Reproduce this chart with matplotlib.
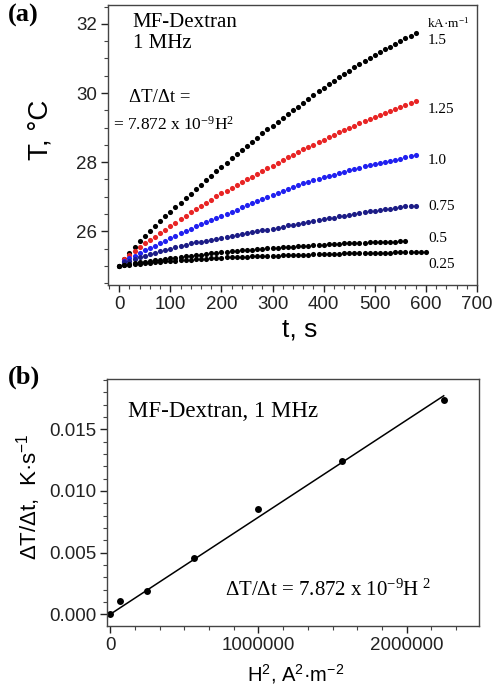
import numpy as np
import matplotlib
matplotlib.use("Agg")
from matplotlib import pyplot as plt
from matplotlib.ticker import AutoMinorLocator

plt.rcParams["mathtext.default"] = "regular"

# heating curves, read every 10 s
t_15 = np.arange(0, 590, 10)
T_15 = [25.00, 25.20, 25.38, 25.55, 25.71, 25.86, 26.01, 26.15, 26.29, 26.43,
        26.57, 26.70, 26.83, 26.96, 27.09, 27.22, 27.35, 27.48, 27.61, 27.74,
        27.87, 27.99, 28.11, 28.23, 28.35, 28.47, 28.59, 28.71, 28.83, 28.95,
        29.06, 29.17, 29.28, 29.39, 29.50, 29.61, 29.72, 29.83, 29.94, 30.05,
        30.15, 30.25, 30.35, 30.45, 30.55, 30.65, 30.74, 30.83, 30.92, 31.01,
        31.10, 31.18, 31.26, 31.34, 31.42, 31.50, 31.58, 31.66, 31.74]

t_125 = np.arange(10, 590, 10)
T_125 = [25.20, 25.32, 25.43, 25.54, 25.65, 25.75, 25.85, 25.95, 26.05, 26.15,
         26.25, 26.35, 26.45, 26.55, 26.65, 26.74, 26.83, 26.92, 27.01, 27.10,
         27.18, 27.26, 27.34, 27.42, 27.50, 27.58, 27.66, 27.74, 27.82, 27.90,
         27.98, 28.06, 28.14, 28.22, 28.30, 28.37, 28.44, 28.51, 28.58, 28.65,
         28.72, 28.79, 28.86, 28.93, 29.00, 29.06, 29.12, 29.18, 29.24, 29.30,
         29.36, 29.42, 29.48, 29.54, 29.60, 29.66, 29.72, 29.77]

t_10 = np.arange(10, 590, 10)
T_10 = [25.15, 25.22, 25.30, 25.38, 25.45, 25.52, 25.59, 25.66, 25.73, 25.80,
        25.87, 25.94, 26.01, 26.08, 26.15, 26.21, 26.27, 26.33, 26.39, 26.45,
        26.51, 26.57, 26.63, 26.69, 26.75, 26.81, 26.87, 26.93, 26.99, 27.05,
        27.11, 27.17, 27.23, 27.29, 27.35, 27.39, 27.44, 27.49, 27.52, 27.56,
        27.60, 27.64, 27.68, 27.72, 27.76, 27.80, 27.84, 27.88, 27.92, 27.95,
        27.98, 28.01, 28.04, 28.07, 28.10, 28.14, 28.17, 28.20]

t_075 = np.arange(10, 590, 10)
T_075 = [25.10, 25.14, 25.19, 25.25, 25.30, 25.34, 25.38, 25.42, 25.46, 25.50,
         25.54, 25.58, 25.61, 25.65, 25.68, 25.70, 25.73, 25.75, 25.78, 25.80,
         25.83, 25.86, 25.89, 25.92, 25.95, 25.98, 26.00, 26.03, 26.05, 26.08,
         26.11, 26.14, 26.17, 26.19, 26.22, 26.25, 26.27, 26.30, 26.32, 26.35,
         26.38, 26.40, 26.43, 26.45, 26.48, 26.50, 26.53, 26.55, 26.58, 26.60,
         26.62, 26.64, 26.66, 26.68, 26.70, 26.72, 26.73, 26.74]

t_05 = np.arange(0, 570, 10)
T_05 = [25.00, 25.03, 25.05, 25.08, 25.10, 25.12, 25.14, 25.16, 25.18, 25.20,
        25.22, 25.24, 25.26, 25.28, 25.30, 25.32, 25.33, 25.35, 25.37, 25.38,
        25.40, 25.41, 25.42, 25.44, 25.45, 25.46, 25.47, 25.49, 25.50, 25.51,
        25.52, 25.53, 25.54, 25.55, 25.56, 25.57, 25.58, 25.59, 25.60, 25.61,
        25.62, 25.63, 25.63, 25.64, 25.65, 25.65, 25.66, 25.67, 25.67, 25.68,
        25.68, 25.69, 25.69, 25.70, 25.70, 25.71, 25.71]

t_025 = np.arange(0, 610, 10)
T_025 = [25.00, 25.02, 25.03, 25.05, 25.06, 25.08, 25.09, 25.10, 25.12, 25.13,
         25.14, 25.15, 25.16, 25.17, 25.18, 25.19, 25.20, 25.21, 25.22, 25.23,
         25.24, 25.25, 25.25, 25.26, 25.27, 25.27, 25.28, 25.28, 25.29, 25.29,
         25.30, 25.30, 25.31, 25.31, 25.32, 25.32, 25.33, 25.33, 25.34, 25.34,
         25.34, 25.35, 25.35, 25.35, 25.36, 25.36, 25.36, 25.37, 25.37, 25.37,
         25.38, 25.38, 25.38, 25.38, 25.39, 25.39, 25.39, 25.39, 25.40, 25.40,
         25.40]

curves = [(t_15, T_15, "black", "1.5", 31.52),
          (t_125, T_125, "#e82424", "1.25", 29.52),
          (t_10, T_10, "#2020f0", "1.0", 28.06),
          (t_075, T_075, "#1c1c86", "0.75", 26.71),
          (t_05, T_05, "black", "0.5", 25.80),
          (t_025, T_025, "black", "0.25", 25.03)]

# heating rate vs H^2
H2 = [0, 62500, 250000, 562500, 1000000, 1562500, 2250000]
rate = [0.0000, 0.0011, 0.0019, 0.0046, 0.0085, 0.0124, 0.0174]
slope = 7.872e-9
fit_x = np.array([0, 2250000])

serif = "Liberation Serif"
sans = "Liberation Sans"

fig = plt.figure(figsize=(4.94, 6.90), dpi=100)

# ---- panel (a)
ax = fig.add_axes([0.2186, 0.587, 0.747, 0.406])
for t, T, c, lab, ly in curves:
    ax.plot(t, T, "o", color=c, ms=3.7, mew=0)
    ax.text(604, ly, lab, family=serif, fontsize=11, va="center")
ax.text(602, 32.02, "kA·m$^{-1}$", family=serif, fontsize=9.5, va="center")
ax.text(26, 32.32, "MF-Dextran\n1 MHz", family=serif, fontsize=15,
        va="top", linespacing=1.15)
ax.text(20, 29.88, "ΔT/Δt =", family=serif, fontsize=13.5, va="center")
ax.text(-13, 29.07, "= 7.872 x 10$^{-9}$H$^{2}$", family=serif,
        fontsize=12.5, va="center")

ax.set_xlim(-22, 700)
ax.set_ylim(24.45, 32.55)
ax.set_xticks(range(0, 701, 100))
ax.set_yticks([26, 28, 30, 32])
ax.xaxis.set_minor_locator(AutoMinorLocator(5))
ax.yaxis.set_minor_locator(AutoMinorLocator(4))

# ---- panel (b)
bx = fig.add_axes([0.2172, 0.0928, 0.753, 0.3575])
bx.plot(fit_x, slope * fit_x, color="black", lw=1.1)
bx.plot(H2, rate, "o", color="black", ms=5, mew=0)
bx.text(123000, 0.01643, "MF-Dextran, 1 MHz", family=serif, fontsize=16.5,
        va="center")
bx.text(775000, 0.00198, "ΔT/Δt = 7.872 x 10$^{-9}$H$^{\\ 2}$", family=serif,
        fontsize=15, va="center")
bx.set_xlim(-20000, 2490000)
bx.set_ylim(-0.00095, 0.01905)
bx.set_xticks([0, 1000000, 2000000])
bx.set_xticklabels(["0", "1000000", "2000000"])
bx.set_yticks([0.000, 0.005, 0.010, 0.015])
bx.set_yticklabels(["0.000", "0.005", "0.010", "0.015"])
bx.xaxis.set_minor_locator(AutoMinorLocator(6))
bx.yaxis.set_minor_locator(AutoMinorLocator(5))

for a in (ax, bx):
    for s in a.spines.values():
        s.set_color("#444444")
        s.set_linewidth(1.0)
    a.tick_params(which="major", direction="out", length=5, width=1,
                  labelsize=13.5, colors="#222222", pad=3)
    a.tick_params(which="minor", direction="out", length=3, width=0.8,
                  colors="#444444")
    for lbl in a.get_xticklabels() + a.get_yticklabels():
        lbl.set_family(sans)

fig.text(40 / 494, 1 - 130 / 690, "T, °C", family=sans, fontsize=20,
         rotation=90, ha="center", va="center")
fig.text(300 / 494, 1 - 329 / 690, "t, s", family=sans, fontsize=19,
         ha="center", va="center")
fig.text(29 / 494, 1 - 497 / 690, "ΔT/Δt,  K·s$^{-1}$", family=sans,
         fontsize=16, rotation=90, ha="center", va="center")
fig.text(296 / 494, 1 - 674 / 690, "H$^2$, A$^2$·m$^{-2}$", family=sans,
         fontsize=14.5, ha="center", va="center")
fig.text(8 / 494, 1 - 15 / 690, "(a)", family=serif, fontsize=19,
         fontweight="bold", va="center")
fig.text(8 / 494, 1 - 377 / 690, "(b)", family=serif, fontsize=19,
         fontweight="bold", va="center")

fig.savefig("out.png", dpi=100)
